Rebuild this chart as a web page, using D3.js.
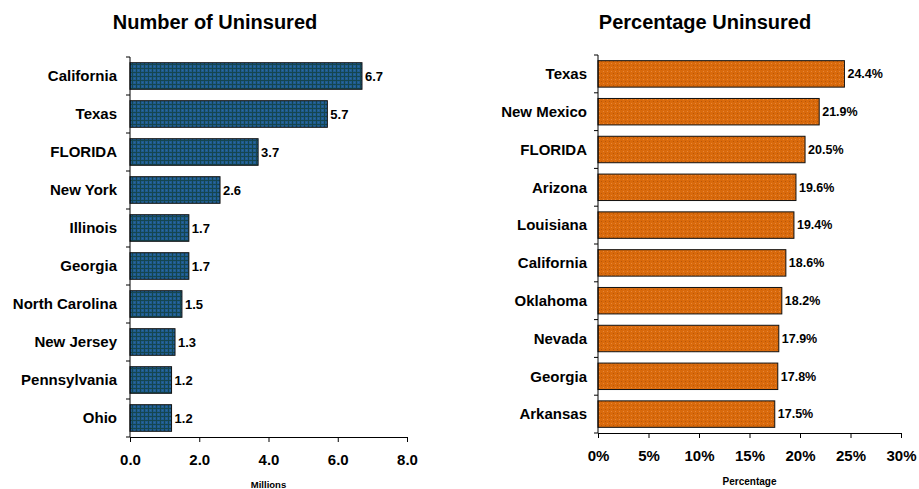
<!DOCTYPE html>
<html>
<head>
<meta charset="utf-8">
<script src="https://cdn.jsdelivr.net/npm/d3@7"></script>
<style>
  body { margin: 0; background: #fff; }
  text { font-family: Arial, "Liberation Sans", sans-serif; font-weight: bold; fill: #000; }
</style>
</head>
<body>
<script>
// data
var numStates = ['California', 'Texas', 'FLORIDA', 'New York', 'Illinois', 'Georgia',
  'North Carolina', 'New Jersey', 'Pennsylvania', 'Ohio'];
var numValues = [6.7, 5.7, 3.7, 2.6, 1.7, 1.7, 1.5, 1.3, 1.2, 1.2];
var numTicks = [0, 2, 4, 6, 8];

var pctStates = ['Texas', 'New Mexico', 'FLORIDA', 'Arizona', 'Louisiana', 'California',
  'Oklahoma', 'Nevada', 'Georgia', 'Arkansas'];
var pctValues = [24.4, 21.9, 20.5, 19.6, 19.4, 18.6, 18.2, 17.9, 17.8, 17.5];
var pctTicks = [0, 5, 10, 15, 20, 25, 30];

var width = 919;
var height = 489;

var svg = d3.select('body')
  .append('svg')
  .attr('width', width)
  .attr('height', height);

// patterns for the bar fills
var defs = svg.append('defs');
var blue = defs.append('pattern')
  .attr('id', 'bluePat')
  .attr('patternUnits', 'userSpaceOnUse')
  .attr('width', 4).attr('height', 4);
blue.append('rect').attr('width', 4).attr('height', 4).attr('fill', '#1f5b8e');
blue.append('rect').attr('x', 0).attr('y', 0).attr('width', 4).attr('height', 1).attr('fill', '#15464f');
blue.append('rect').attr('x', 0).attr('y', 0).attr('width', 1).attr('height', 4).attr('fill', '#15464f');
blue.append('rect').attr('x', 2).attr('y', 2).attr('width', 1).attr('height', 1).attr('fill', '#2a6aa0');

var orange = defs.append('pattern')
  .attr('id', 'orangePat')
  .attr('patternUnits', 'userSpaceOnUse')
  .attr('width', 4).attr('height', 4);
orange.append('rect').attr('width', 4).attr('height', 4).attr('fill', '#d96a0c');
orange.append('rect').attr('x', 1).attr('y', 1).attr('width', 1).attr('height', 1).attr('fill', '#b95608');
orange.append('rect').attr('x', 3).attr('y', 3).attr('width', 1).attr('height', 1).attr('fill', '#e8873a');

// draws one horizontal bar chart
var drawChart = function(opts) {
  var g = svg.append('g');

  var x = d3.scaleLinear().domain(opts.domain).range([opts.left, opts.right]);
  var y = d3.scaleBand().domain(opts.states).range([opts.top, opts.bottom]).paddingInner(0.3).paddingOuter(0.15);

  // title
  g.append('text')
    .attr('x', opts.titleX)
    .attr('y', 29)
    .attr('text-anchor', 'middle')
    .style('font-size', '20px')
    .text(opts.title);

  // bars
  g.selectAll('rect.bar')
    .data(opts.values)
    .enter()
    .append('rect')
    .attr('class', 'bar')
    .attr('x', x(0))
    .attr('y', function(d, i) { return y(opts.states[i]); })
    .attr('width', function(d) { return x(d) - x(0); })
    .attr('height', y.bandwidth())
    .attr('fill', opts.fill)
    .attr('stroke', '#111')
    .attr('stroke-width', 1);

  // value labels
  g.selectAll('text.val')
    .data(opts.values)
    .enter()
    .append('text')
    .attr('class', 'val')
    .attr('x', function(d) { return x(d) + 3; })
    .attr('y', function(d, i) { return y(opts.states[i]) + y.bandwidth() / 2; })
    .attr('dy', '0.35em')
    .style('font-size', opts.valSize)
    .text(opts.valFormat);

  // category labels
  g.selectAll('text.cat')
    .data(opts.states)
    .enter()
    .append('text')
    .attr('class', 'cat')
    .attr('x', opts.left - opts.catGap)
    .attr('y', function(d) { return y(d) + y.bandwidth() / 2; })
    .attr('dy', '0.35em')
    .attr('text-anchor', 'end')
    .style('font-size', '15px')
    .text(function(d) { return d; });

  // y axis line and band boundary ticks
  var step = (opts.bottom - opts.top) / opts.states.length;
  var bounds = d3.range(opts.states.length + 1).map(function(i) { return opts.top + i * step; });
  g.append('line')
    .attr('x1', x(0)).attr('x2', x(0))
    .attr('y1', opts.top).attr('y2', opts.bottom)
    .attr('stroke', '#000');
  g.selectAll('line.ytick')
    .data(bounds)
    .enter()
    .append('line')
    .attr('class', 'ytick')
    .attr('x1', x(0) - 4).attr('x2', x(0))
    .attr('y1', function(d) { return d; }).attr('y2', function(d) { return d; })
    .attr('stroke', '#000');

  // x axis
  var xAxis = d3.axisBottom(x)
    .tickValues(opts.ticks)
    .tickSize(5)
    .tickSizeOuter(0)
    .tickFormat(opts.tickFormat);
  var ax = g.append('g')
    .attr('transform', 'translate(0,' + opts.bottom + ')')
    .call(xAxis);
  ax.select('.domain').attr('stroke', '#000');
  ax.selectAll('.tick line').attr('stroke', '#000');
  ax.selectAll('.tick text')
    .attr('y', 17)
    .attr('fill', '#000')
    .style('font-size', '15px')
    .style('font-family', 'Arial, "Liberation Sans", sans-serif')
    .style('font-weight', 'bold');

  // axis title
  g.append('text')
    .attr('x', (opts.left + opts.right) / 2)
    .attr('y', opts.axisTitleY)
    .attr('text-anchor', 'middle')
    .style('font-size', opts.axisTitleSize)
    .text(opts.axisTitle);
};

drawChart({
  title: 'Number of Uninsured',
  titleX: 215,
  states: numStates,
  values: numValues,
  ticks: numTicks,
  domain: [0, 8],
  left: 130, right: 407,
  top: 57, bottom: 437,
  catGap: 13,
  fill: 'url(#bluePat)',
  valSize: '13px',
  valFormat: function(d) { return d3.format('.1f')(d); },
  tickFormat: d3.format('.1f'),
  axisTitle: 'Millions',
  axisTitleY: 488,
  axisTitleSize: '9.5px'
});

drawChart({
  title: 'Percentage Uninsured',
  titleX: 705,
  states: pctStates,
  values: pctValues,
  ticks: pctTicks,
  domain: [0, 30],
  left: 598, right: 901,
  top: 55, bottom: 433,
  catGap: 11,
  fill: 'url(#orangePat)',
  valSize: '12.5px',
  valFormat: function(d) { return d3.format('.1f')(d) + '%'; },
  tickFormat: function(d) { return d + '%'; },
  axisTitle: 'Percentage',
  axisTitleY: 484.5,
  axisTitleSize: '10px'
});
</script>
</body>
</html>
